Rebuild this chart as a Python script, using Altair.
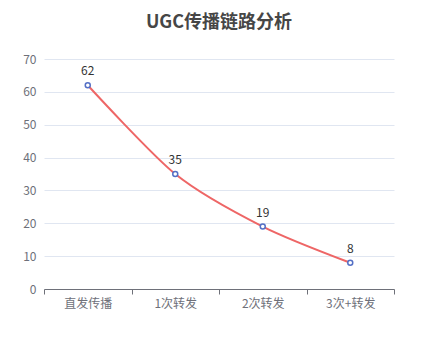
import altair as alt
import pandas as pd

categories = ["直发传播", "1次转发", "2次转发", "3次+转发"]
values = [62, 35, 19, 8]

df = pd.DataFrame({"cat": categories, "val": values})

font = "Noto Sans CJK SC"

x = alt.X("cat:N", sort=categories, title=None,
          scale=alt.Scale(paddingInner=0, paddingOuter=0),
          axis=alt.Axis(labelAngle=0, tickBand="extent", domainColor="#6e7079",
                        tickColor="#6e7079", tickSize=5, labelColor="#6e7079",
                        labelFontSize=12, labelFont=font, labelPadding=4, grid=False))
y = alt.Y("val:Q", title=None,
          scale=alt.Scale(domain=[0, 70], nice=False),
          axis=alt.Axis(values=[0, 10, 20, 30, 40, 50, 60, 70], domain=False, ticks=False,
                        labelColor="#6e7079", labelFontSize=12, labelFont=font,
                        labelPadding=8, gridColor="#e0e6f1"))

base = alt.Chart(df).encode(x=x, y=y)

line = base.mark_line(color="#ee6666", strokeWidth=2, interpolate="cardinal", tension=0.2)
pts = base.mark_point(shape="circle", filled=True, fill="white", stroke="#5470c6",
                      strokeWidth=1.5, size=25, opacity=1)
labels = base.mark_text(dy=-14, fontSize=12, color="#333333", font=font).encode(text="val:Q")

chart = alt.layer(line, pts, labels).properties(
    width=350, height=230,
    title=alt.TitleParams("UGC传播链路分析", fontSize=18, fontWeight="bold",
                          color="#464646", font=font, anchor="middle", offset=21),
    autosize=alt.AutoSizeParams(type="none"),
    padding={"left": 36, "top": 51, "right": 36, "bottom": 50},
).configure_view(stroke=None)

chart.save("out.html", embed_options={"renderer": "svg", "actions": False})
